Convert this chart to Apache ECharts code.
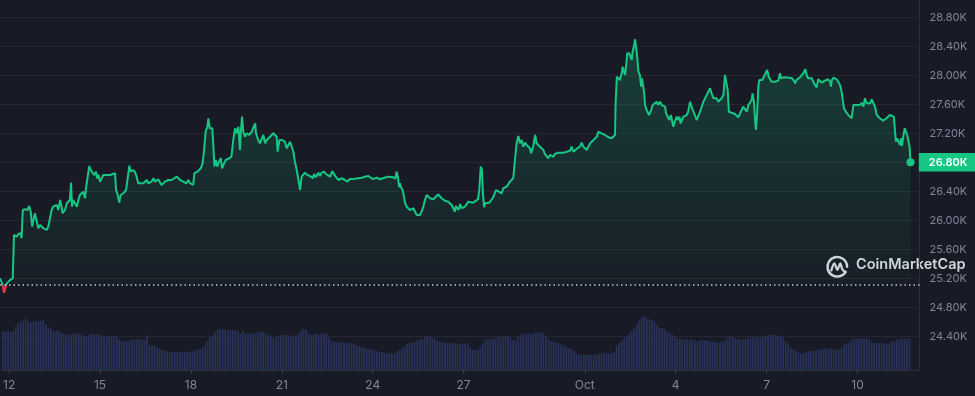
<!DOCTYPE html>
<html>
<head>
<meta charset="utf-8">
<script src="https://cdn.jsdelivr.net/npm/echarts@6/dist/echarts.min.js"></script>
<style>
html,body{margin:0;padding:0;background:#181a25;}
#c{width:975px;height:396px;}
</style>
</head>
<body>
<div id="c"></div>
<script>
// Time in days since Sep 12 00:00
const priceTimes = [-0.23,-0.14,-0.10,-0.01,0.10,0.15,0.19,0.23,0.32,0.37,0.43,0.45,0.48,0.52,0.59,0.67,0.73,0.78,0.83,0.87,0.92,0.98,1.03,1.09,1.14,1.20,1.25,1.31,1.36,1.42,1.47,1.52,1.58,1.64,1.69,1.75,1.80,1.83,1.91,1.97,2.02,2.07,2.11,2.14,2.18,2.24,2.30,2.35,2.40,2.46,2.51,2.57,2.60,2.64,2.71,2.76,2.82,2.87,2.93,2.97,3.02,3.06,3.12,3.17,3.23,3.28,3.39,3.45,3.56,3.59,3.63,3.70,3.74,3.83,3.92,3.97,4.03,4.07,4.14,4.21,4.27,4.32,4.38,4.49,4.60,4.65,4.76,4.82,4.87,4.98,5.09,5.20,5.31,5.37,5.42,5.48,5.59,5.70,5.80,5.91,5.97,6.03,6.13,6.17,6.27,6.33,6.38,6.44,6.49,6.54,6.60,6.63,6.68,6.76,6.79,6.83,6.88,6.92,6.98,7.04,7.08,7.15,7.20,7.25,7.32,7.39,7.45,7.51,7.56,7.62,7.67,7.70,7.74,7.78,7.84,7.89,7.98,8.06,8.11,8.17,8.20,8.27,8.33,8.39,8.44,8.50,8.55,8.60,8.66,8.77,8.82,8.88,8.91,8.97,9.04,9.10,9.15,9.21,9.26,9.32,9.38,9.43,9.48,9.54,9.59,9.65,9.70,9.81,9.89,9.98,10.07,10.11,10.17,10.25,10.31,10.36,10.44,10.50,10.64,10.71,10.78,10.91,10.96,11.02,11.13,11.21,11.29,11.46,11.68,11.79,11.90,12.04,12.19,12.28,12.48,12.56,12.72,12.79,12.83,12.87,12.91,12.94,12.97,13.03,13.07,13.11,13.16,13.27,13.33,13.38,13.43,13.49,13.60,13.65,13.71,13.76,13.82,13.93,14.04,14.09,14.20,14.31,14.42,14.53,14.64,14.70,14.75,14.78,14.83,14.87,14.92,14.97,15.08,15.19,15.25,15.35,15.41,15.51,15.55,15.60,15.64,15.67,15.71,15.75,15.81,15.88,15.99,16.04,16.10,16.14,16.19,16.23,16.29,16.34,16.40,16.45,16.51,16.56,16.67,16.73,16.78,16.84,16.89,16.95,17.00,17.06,17.11,17.17,17.22,17.26,17.33,17.39,17.44,17.49,17.55,17.66,17.71,17.82,17.88,17.94,17.99,18.04,18.15,18.21,18.32,18.43,18.54,18.59,18.65,18.76,18.87,18.92,18.98,19.03,19.09,19.14,19.20,19.31,19.42,19.47,19.58,19.69,19.80,19.91,20.02,20.04,20.08,20.13,20.18,20.24,20.27,20.32,20.35,20.40,20.42,20.49,20.54,20.57,20.60,20.65,20.68,20.71,20.75,20.79,20.82,20.84,20.88,20.91,20.95,20.98,21.01,21.06,21.10,21.14,21.17,21.21,21.26,21.39,21.44,21.50,21.56,21.61,21.67,21.70,21.74,21.81,21.86,21.94,21.99,22.05,22.09,22.14,22.18,22.27,22.32,22.38,22.43,22.49,22.54,22.60,22.65,22.71,22.76,22.82,22.93,23.04,23.15,23.20,23.26,23.37,23.42,23.53,23.59,23.64,23.70,23.73,23.77,23.83,23.97,24.08,24.14,24.24,24.36,24.41,24.52,24.55,24.60,24.63,24.66,24.70,24.74,24.77,24.87,24.93,25.03,25.08,25.18,25.23,25.29,25.40,25.45,25.49,25.58,25.76,25.85,25.91,25.95,26.00,26.13,26.20,26.29,26.33,26.38,26.50,26.55,26.60,26.66,26.71,26.77,26.83,26.93,27.04,27.10,27.13,27.16,27.21,27.32,27.37,27.43,27.48,27.52,27.56,27.62,27.65,27.70,27.76,27.81,27.87,27.98,28.03,28.09,28.14,28.20,28.25,28.31,28.36,28.42,28.47,28.52,28.58,28.64,28.74,28.80,28.85,28.96,29.07,29.13,29.20,29.24,29.27,29.31,29.36,29.40,29.44,29.47,29.51,29.56,29.60,29.64,29.70,29.72,29.75];
const prices = [25200,25110,25000,25130,25175,25155,25200,25800,25774,25811,25784,25821,25752,26142,26152,26142,26198,26119,25912,26004,26097,26097,25890,25936,25959,25890,25912,25867,25912,25890,26142,26188,26166,26211,26142,26280,26188,26097,26142,26235,26257,26280,26519,26188,26280,26235,26188,26280,26349,26326,26395,26304,26442,26556,26749,26694,26671,26625,26671,26580,26625,26533,26580,26625,26602,26625,26625,26649,26649,26418,26373,26243,26349,26373,26418,26442,26753,26671,26694,26671,26602,26511,26487,26511,26556,26511,26533,26580,26533,26566,26487,26533,26556,26533,26556,26533,26602,26556,26533,26511,26556,26511,26487,26649,26671,26671,26717,26786,26970,27222,27291,27407,27269,27269,27062,26740,26832,26740,26809,26856,26717,26786,26832,26809,26856,26878,27108,27269,27200,27291,26970,27222,27429,27222,27153,27200,27177,27222,27200,27338,27200,27108,27062,27131,27177,27062,27108,27084,27153,27200,27222,27153,26946,27108,27108,27131,27084,26993,27015,27084,27062,26946,26809,26694,26717,26418,26602,26657,26625,26611,26580,26639,26593,26657,26611,26657,26671,26639,26602,26680,26625,26556,26542,26580,26556,26533,26570,26574,26588,26602,26611,26570,26588,26566,26593,26602,26593,26574,26671,26602,26456,26511,26456,26418,26326,26235,26188,26142,26119,26166,26142,26074,26074,26119,26188,26280,26349,26304,26290,26317,26359,26304,26270,26257,26211,26188,26119,26198,26188,26142,26225,26166,26188,26257,26235,26243,26270,26290,26418,26740,26694,26373,26180,26235,26225,26243,26304,26349,26418,26442,26395,26418,26373,26442,26418,26463,26442,26533,26580,26856,27062,27163,27062,27108,27015,27071,27039,27053,26993,26924,27025,27177,27062,27071,27015,26970,26915,26856,26901,26924,26878,26915,26933,26915,26933,26946,26960,27015,26946,26988,27015,27071,27015,27039,26970,27015,27062,27108,27153,27222,27200,27177,27145,27131,27177,27614,27981,27959,27935,28028,28119,28050,28004,28188,28303,28303,28312,28211,28326,28418,28497,28395,28257,28050,28073,28004,27843,27959,27981,27752,27590,27521,27545,27452,27429,27521,27590,27636,27590,27636,27590,27614,27567,27476,27498,27383,27452,27291,27360,27429,27383,27429,27338,27429,27407,27452,27498,27636,27567,27590,27452,27383,27407,27498,27636,27728,27821,27752,27683,27683,27636,27683,27728,28004,27981,27798,27498,27521,27467,27421,27476,27567,27498,27590,27660,27752,27614,27383,27246,27476,27843,27935,27935,27959,28073,27981,27912,27935,27912,27926,28028,27959,27972,27967,27959,27926,27890,27935,27981,28018,28083,28004,27959,27959,27935,27867,27835,27945,27922,27898,27926,27945,27912,27843,27935,27967,27945,27926,27867,27774,27660,27545,27498,27521,27452,27476,27407,27590,27590,27604,27590,27622,27567,27683,27614,27636,27614,27669,27660,27567,27452,27407,27429,27374,27407,27452,27476,27429,27222,27084,27131,27108,27039,27131,27025,27153,27269,27246,27177,27153,27015,26800];
const openPrice = 25110;

// Volume bars, every 2 hours starting at day -0.2 (arbitrary units)
const volStart = -0.2;
const volStepDays = 1/12;
const volumes = [19.5,19.2,19.2,19.2,19.5,21.7,23.5,24.2,24.8,25.8,
24.5,23.8,24.2,24.2,24.2,24.5,25,23,21.3,20.8,
19.5,19.5,19.5,18.5,18.2,17.8,17.4,17.6,18.3,18.3,
18,17.8,17,17,17.6,18.3,17.6,17.8,17.8,17.2,
16.8,16.7,16.7,17,17,16.7,15.3,14.7,14.3,14.2,
14.7,15,15.3,15.5,15.5,15.3,15.2,17.5,12.5,12.2,
12,11.2,10.5,10,9.7,9.3,9.1,9,9,9,
8.9,8.9,8.8,9.1,9.2,9.4,10,10.2,10.6,11,
12.3,14.5,16.3,17.3,18.7,19.9,20.4,20.5,20.4,20,
20,19.7,20.1,19.5,18.3,19.8,18.3,18.2,18,18.3,
18.4,18.7,19,19,18.2,17.5,17,15.8,16.3,16.9,
17.3,17.5,17.5,17.2,16.5,16.3,17.3,18.2,19.6,20.4,
20.2,18.5,17.5,17.8,18.3,17.8,18.3,18.3,18.3,16.2,
14.8,14,13.8,14,14,13.8,13.7,13.5,13.3,12.9,
12.3,12,11.4,11,10.8,10.5,10.1,10,9.5,9,
8.8,8.8,8.4,8.3,8.3,8.3,9.2,10,11,11.8,
13,13.5,13.8,14,14.6,15.2,15.5,16.3,17.2,16.6,
16.3,15.8,14.5,14.2,13.8,13.8,13.3,13.7,13.3,13.7,
13.3,12.8,12.8,13.3,13.3,11.4,10,10,10.3,11.7,
13.3,15,15.4,15.5,15.6,15.8,16.3,16.5,16.8,17,
16.6,15.8,14.9,15.2,16.6,17.6,18.2,18.3,18.2,18,
18.4,18.9,19,18.7,18.5,16.7,15.5,14.5,14.1,13.8,
13.3,12.7,12.1,11.6,10.8,10.7,9.8,8.2,7.7,7.5,
7.5,7.5,7.5,7.5,7.5,7.7,8.3,8.3,8.3,8.7,
8.3,8.3,9,12.2,13.5,14.8,15.8,16.8,18.5,19.7,
20.8,22.5,24.8,26.4,27,25.9,25.5,25,24.2,22.4,
21.1,20.8,20.5,19.5,18.8,17.8,16.7,15.8,15.5,15.3,
15,15.3,15.3,15.2,14.7,14.2,14.6,15,15,14.5,
14.2,14.2,14.1,13.8,13.9,14.3,14.8,16.2,17.2,16.5,
15.9,15.6,15.5,15.5,15.6,15.8,16.2,16.6,16.3,16.3,
16.3,16.6,17.2,17.5,17.8,17.5,17.5,17.2,16.8,15.9,
14.5,12.8,11.3,10.3,9.4,8.8,8.3,8.3,9.2,9.5,
9.4,9.4,9.8,10.3,10.3,10.7,10.8,10.5,10.8,10.2,
10,10.2,11,12.7,13.3,13.8,14.9,15.8,15.8,15.8,
15.8,15.8,15.8,15.2,14,13.5,13.5,13.5,13.6,13.1,
13,13.3,14,14.6,15.2,15.6,15.8,15.8,15.8,15.8];

// Axis ticks
const tickDays = [0,3,6,9,12,15,19,22,25,28];
const tickLabels = ['12','15','18','21','24','27','Oct','4','7','10'];
const priceMin = 24400, priceMax = 28800, priceStep = 400;
const dayMin = -0.2305, dayMax = 30.046;

const GREEN = '#16c784', RED = '#ea3943';
const GRID = '#252834', LABEL = '#80879a';
const H = 396;

const lineData = priceTimes.map((t, i) => [t, prices[i]]);
const volData = volumes.map((v, i) => [volStart + i * volStepDays, v]);
const last = lineData[lineData.length - 1];

const chart = echarts.init(document.getElementById('c'), null, {renderer: 'canvas'});
chart.setOption({
  backgroundColor: '#181a25',
  animation: false,
  textStyle: {fontFamily: 'Inter, "Noto Sans", sans-serif'},
  grid: [
    {left: 0, right: 55.5, top: 17.3, bottom: 59.7},
    {left: 0, right: 55.5, top: 300, bottom: 26}
  ],
  xAxis: [
    {type: 'value', gridIndex: 0, min: dayMin, max: dayMax,
     axisLine: {show: false}, axisTick: {show: false}, axisLabel: {show: false}, splitLine: {show: false}},
    {type: 'value', gridIndex: 1, min: dayMin, max: dayMax,
     axisLine: {show: true, lineStyle: {color: '#2b2e3b', width: 1}},
     axisTick: {show: true, customValues: tickDays, length: 4, lineStyle: {color: '#3a3e4c'}},
     axisLabel: {show: true, customValues: tickDays, color: LABEL, fontSize: 12, margin: 9,
       formatter: v => { const k = tickDays.indexOf(Math.round(v)); return k >= 0 ? tickLabels[k] : ''; }},
     splitLine: {show: false}}
  ],
  yAxis: [
    {type: 'value', gridIndex: 0, position: 'right', min: priceMin, max: priceMax, interval: priceStep,
     axisLine: {show: false}, axisTick: {show: false},
     axisLabel: {color: LABEL, fontSize: 11, margin: 10, formatter: v => (v / 1000).toFixed(2) + 'K'},
     splitLine: {show: true, lineStyle: {color: GRID, width: 1}}},
    {type: 'value', gridIndex: 1, min: 0, max: 35, show: false}
  ],
  graphic: [
    {type: 'line', shape: {x1: 919.5, y1: 0, x2: 919.5, y2: 370}, style: {stroke: '#2b2e3b', lineWidth: 1}, z: 1},
    {type: 'group', left: 825, top: 254.5, children: [
      {type: 'arc', shape: {cx: 11.5, cy: 11.5, r: 9.8, startAngle: 0.55, endAngle: 0.55 + Math.PI * 1.82},
       style: {stroke: '#d3d6dd', lineWidth: 2.5, fill: 'none', lineCap: 'round'}},
      {type: 'polyline', shape: {points: [[5.5, 15], [8.5, 8], [11.5, 14.5], [14.5, 8], [16.5, 14], [19.5, 17]], smooth: 0.3},
       style: {stroke: '#d3d6dd', lineWidth: 2.3, fill: 'none', lineCap: 'round', lineJoin: 'round'}}
    ]},
    {type: 'text', left: 856, top: 257.5, style: {text: 'CoinMarketCap', fill: '#d3d6dd', font: '600 14.5px Inter, "Noto Sans", sans-serif'}}
  ],
  series: [
    {type: 'bar', xAxisIndex: 1, yAxisIndex: 1, data: volData, barWidth: 1.7,
     itemStyle: {color: '#29335a'}, z: 1, silent: true},
    {id: 'price', type: 'line', xAxisIndex: 0, yAxisIndex: 0, data: lineData, showSymbol: false, z: 3,
     lineStyle: {width: 2, color: GREEN}, clip: false,
     areaStyle: {origin: openPrice,
       color: new echarts.graphic.LinearGradient(0, 0, 0, 1, [
         {offset: 0, color: 'rgba(22,199,132,0.30)'},
         {offset: 1, color: 'rgba(22,199,132,0.03)'}])},
     endLabel: {show: true, distance: 8.3, formatter: p => (p.value[1] / 1000).toFixed(2) + 'K',
       backgroundColor: GREEN, color: '#ffffff', fontSize: 11, fontWeight: 600,
       padding: [3, 9, 3, 10], lineHeight: 12.5},
     markLine: {silent: true, symbol: 'none', label: {show: false},
       lineStyle: {color: '#c4c7d0', type: [1.5, 3], width: 1.5},
       data: [{yAxis: openPrice}]},
     markPoint: {silent: true, symbol: 'circle', symbolSize: 8, label: {show: false},
       itemStyle: {color: GREEN}, data: [{coord: last}]}
    }
  ]
});

// Colour the stroke red below the opening price, green above it
const yOpen = chart.convertToPixel({yAxisIndex: 0}, openPrice);
const f = yOpen / H;
chart.setOption({series: [{id: 'price', lineStyle: {color: new echarts.graphic.LinearGradient(0, 0, 0, H, [
  {offset: 0, color: GREEN}, {offset: f, color: GREEN}, {offset: f, color: RED}, {offset: 1, color: RED}], true)}}]});
</script>
</body>
</html>
